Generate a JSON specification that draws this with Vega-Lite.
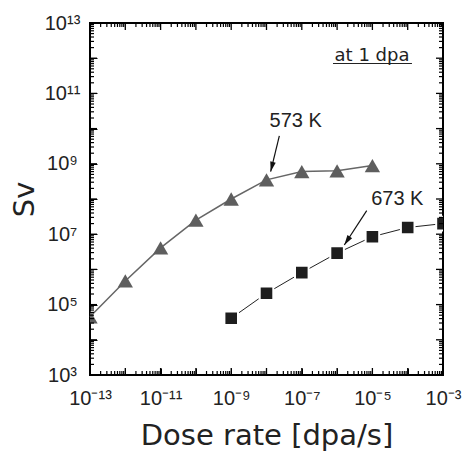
{
  "$schema": "https://vega.github.io/schema/vega-lite/v6.json",
  "width": 353,
  "height": 352,
  "autosize": {"type": "none"},
  "padding": {"left": 90, "top": 23, "right": 27, "bottom": 78},
  "background": "white",
  "config": {
    "view": {"stroke": "black", "strokeWidth": 2},
    "axis": {"grid": false, "domain": false}
  },
  "datasets": {
    "pts": [
      {"x": 1e-13, "y": 4.5e4, "temp": "573 K"},
      {"x": 1e-12, "y": 4.7e5, "temp": "573 K"},
      {"x": 1e-11, "y": 4.1e6, "temp": "573 K"},
      {"x": 1e-10, "y": 2.5e7, "temp": "573 K"},
      {"x": 1e-9, "y": 1.0e8, "temp": "573 K"},
      {"x": 1e-8, "y": 3.5e8, "temp": "573 K"},
      {"x": 1e-7, "y": 6.0e8, "temp": "573 K"},
      {"x": 1e-6, "y": 6.3e8, "temp": "573 K"},
      {"x": 1e-5, "y": 8.9e8, "temp": "573 K"},
      {"x": 1e-9, "y": 4.1e4, "temp": "673 K"},
      {"x": 1e-8, "y": 2.1e5, "temp": "673 K"},
      {"x": 1e-7, "y": 8.1e5, "temp": "673 K"},
      {"x": 1e-6, "y": 2.9e6, "temp": "673 K"},
      {"x": 1e-5, "y": 8.5e6, "temp": "673 K"},
      {"x": 1e-4, "y": 1.55e7, "temp": "673 K"},
      {"x": 1e-3, "y": 2.0e7, "temp": "673 K"}
    ],
    "xmaj": [
      {"v": 1e-12, "b": 1e3, "t": 1e13}, {"v": 1e-11, "b": 1e3, "t": 1e13}, {"v": 1e-10, "b": 1e3, "t": 1e13},
      {"v": 1e-9, "b": 1e3, "t": 1e13}, {"v": 1e-8, "b": 1e3, "t": 1e13}, {"v": 1e-7, "b": 1e3, "t": 1e13},
      {"v": 1e-6, "b": 1e3, "t": 1e13}, {"v": 1e-5, "b": 1e3, "t": 1e13}, {"v": 1e-4, "b": 1e3, "t": 1e13}
    ],
    "ymaj": [
      {"v": 1e4, "l": 1e-13, "r": 1e-3}, {"v": 1e5, "l": 1e-13, "r": 1e-3}, {"v": 1e6, "l": 1e-13, "r": 1e-3},
      {"v": 1e7, "l": 1e-13, "r": 1e-3}, {"v": 1e8, "l": 1e-13, "r": 1e-3}, {"v": 1e9, "l": 1e-13, "r": 1e-3},
      {"v": 1e10, "l": 1e-13, "r": 1e-3}, {"v": 1e11, "l": 1e-13, "r": 1e-3}, {"v": 1e12, "l": 1e-13, "r": 1e-3}
    ],
    "xmin": [
      {"v": 2e-13, "b": 1e3, "t": 1e13}, {"v": 3e-13, "b": 1e3, "t": 1e13}, {"v": 4e-13, "b": 1e3, "t": 1e13}, {"v": 5e-13, "b": 1e3, "t": 1e13}, {"v": 6e-13, "b": 1e3, "t": 1e13}, {"v": 7e-13, "b": 1e3, "t": 1e13}, {"v": 8e-13, "b": 1e3, "t": 1e13}, {"v": 9e-13, "b": 1e3, "t": 1e13},
      {"v": 2e-12, "b": 1e3, "t": 1e13}, {"v": 3e-12, "b": 1e3, "t": 1e13}, {"v": 4e-12, "b": 1e3, "t": 1e13}, {"v": 5e-12, "b": 1e3, "t": 1e13}, {"v": 6e-12, "b": 1e3, "t": 1e13}, {"v": 7e-12, "b": 1e3, "t": 1e13}, {"v": 8e-12, "b": 1e3, "t": 1e13}, {"v": 9e-12, "b": 1e3, "t": 1e13},
      {"v": 2e-11, "b": 1e3, "t": 1e13}, {"v": 3e-11, "b": 1e3, "t": 1e13}, {"v": 4e-11, "b": 1e3, "t": 1e13}, {"v": 5e-11, "b": 1e3, "t": 1e13}, {"v": 6e-11, "b": 1e3, "t": 1e13}, {"v": 7e-11, "b": 1e3, "t": 1e13}, {"v": 8e-11, "b": 1e3, "t": 1e13}, {"v": 9e-11, "b": 1e3, "t": 1e13},
      {"v": 2e-10, "b": 1e3, "t": 1e13}, {"v": 3e-10, "b": 1e3, "t": 1e13}, {"v": 4e-10, "b": 1e3, "t": 1e13}, {"v": 5e-10, "b": 1e3, "t": 1e13}, {"v": 6e-10, "b": 1e3, "t": 1e13}, {"v": 7e-10, "b": 1e3, "t": 1e13}, {"v": 8e-10, "b": 1e3, "t": 1e13}, {"v": 9e-10, "b": 1e3, "t": 1e13},
      {"v": 2e-9, "b": 1e3, "t": 1e13}, {"v": 3e-9, "b": 1e3, "t": 1e13}, {"v": 4e-9, "b": 1e3, "t": 1e13}, {"v": 5e-9, "b": 1e3, "t": 1e13}, {"v": 6e-9, "b": 1e3, "t": 1e13}, {"v": 7e-9, "b": 1e3, "t": 1e13}, {"v": 8e-9, "b": 1e3, "t": 1e13}, {"v": 9e-9, "b": 1e3, "t": 1e13},
      {"v": 2e-8, "b": 1e3, "t": 1e13}, {"v": 3e-8, "b": 1e3, "t": 1e13}, {"v": 4e-8, "b": 1e3, "t": 1e13}, {"v": 5e-8, "b": 1e3, "t": 1e13}, {"v": 6e-8, "b": 1e3, "t": 1e13}, {"v": 7e-8, "b": 1e3, "t": 1e13}, {"v": 8e-8, "b": 1e3, "t": 1e13}, {"v": 9e-8, "b": 1e3, "t": 1e13},
      {"v": 2e-7, "b": 1e3, "t": 1e13}, {"v": 3e-7, "b": 1e3, "t": 1e13}, {"v": 4e-7, "b": 1e3, "t": 1e13}, {"v": 5e-7, "b": 1e3, "t": 1e13}, {"v": 6e-7, "b": 1e3, "t": 1e13}, {"v": 7e-7, "b": 1e3, "t": 1e13}, {"v": 8e-7, "b": 1e3, "t": 1e13}, {"v": 9e-7, "b": 1e3, "t": 1e13},
      {"v": 2e-6, "b": 1e3, "t": 1e13}, {"v": 3e-6, "b": 1e3, "t": 1e13}, {"v": 4e-6, "b": 1e3, "t": 1e13}, {"v": 5e-6, "b": 1e3, "t": 1e13}, {"v": 6e-6, "b": 1e3, "t": 1e13}, {"v": 7e-6, "b": 1e3, "t": 1e13}, {"v": 8e-6, "b": 1e3, "t": 1e13}, {"v": 9e-6, "b": 1e3, "t": 1e13},
      {"v": 2e-5, "b": 1e3, "t": 1e13}, {"v": 3e-5, "b": 1e3, "t": 1e13}, {"v": 4e-5, "b": 1e3, "t": 1e13}, {"v": 5e-5, "b": 1e3, "t": 1e13}, {"v": 6e-5, "b": 1e3, "t": 1e13}, {"v": 7e-5, "b": 1e3, "t": 1e13}, {"v": 8e-5, "b": 1e3, "t": 1e13}, {"v": 9e-5, "b": 1e3, "t": 1e13},
      {"v": 2e-4, "b": 1e3, "t": 1e13}, {"v": 3e-4, "b": 1e3, "t": 1e13}, {"v": 4e-4, "b": 1e3, "t": 1e13}, {"v": 5e-4, "b": 1e3, "t": 1e13}, {"v": 6e-4, "b": 1e3, "t": 1e13}, {"v": 7e-4, "b": 1e3, "t": 1e13}, {"v": 8e-4, "b": 1e3, "t": 1e13}, {"v": 9e-4, "b": 1e3, "t": 1e13}
    ],
    "ymin": [
      {"v": 2e3, "l": 1e-13, "r": 1e-3}, {"v": 3e3, "l": 1e-13, "r": 1e-3}, {"v": 4e3, "l": 1e-13, "r": 1e-3}, {"v": 5e3, "l": 1e-13, "r": 1e-3}, {"v": 6e3, "l": 1e-13, "r": 1e-3}, {"v": 7e3, "l": 1e-13, "r": 1e-3}, {"v": 8e3, "l": 1e-13, "r": 1e-3}, {"v": 9e3, "l": 1e-13, "r": 1e-3},
      {"v": 2e4, "l": 1e-13, "r": 1e-3}, {"v": 3e4, "l": 1e-13, "r": 1e-3}, {"v": 4e4, "l": 1e-13, "r": 1e-3}, {"v": 5e4, "l": 1e-13, "r": 1e-3}, {"v": 6e4, "l": 1e-13, "r": 1e-3}, {"v": 7e4, "l": 1e-13, "r": 1e-3}, {"v": 8e4, "l": 1e-13, "r": 1e-3}, {"v": 9e4, "l": 1e-13, "r": 1e-3},
      {"v": 2e5, "l": 1e-13, "r": 1e-3}, {"v": 3e5, "l": 1e-13, "r": 1e-3}, {"v": 4e5, "l": 1e-13, "r": 1e-3}, {"v": 5e5, "l": 1e-13, "r": 1e-3}, {"v": 6e5, "l": 1e-13, "r": 1e-3}, {"v": 7e5, "l": 1e-13, "r": 1e-3}, {"v": 8e5, "l": 1e-13, "r": 1e-3}, {"v": 9e5, "l": 1e-13, "r": 1e-3},
      {"v": 2e6, "l": 1e-13, "r": 1e-3}, {"v": 3e6, "l": 1e-13, "r": 1e-3}, {"v": 4e6, "l": 1e-13, "r": 1e-3}, {"v": 5e6, "l": 1e-13, "r": 1e-3}, {"v": 6e6, "l": 1e-13, "r": 1e-3}, {"v": 7e6, "l": 1e-13, "r": 1e-3}, {"v": 8e6, "l": 1e-13, "r": 1e-3}, {"v": 9e6, "l": 1e-13, "r": 1e-3},
      {"v": 2e7, "l": 1e-13, "r": 1e-3}, {"v": 3e7, "l": 1e-13, "r": 1e-3}, {"v": 4e7, "l": 1e-13, "r": 1e-3}, {"v": 5e7, "l": 1e-13, "r": 1e-3}, {"v": 6e7, "l": 1e-13, "r": 1e-3}, {"v": 7e7, "l": 1e-13, "r": 1e-3}, {"v": 8e7, "l": 1e-13, "r": 1e-3}, {"v": 9e7, "l": 1e-13, "r": 1e-3},
      {"v": 2e8, "l": 1e-13, "r": 1e-3}, {"v": 3e8, "l": 1e-13, "r": 1e-3}, {"v": 4e8, "l": 1e-13, "r": 1e-3}, {"v": 5e8, "l": 1e-13, "r": 1e-3}, {"v": 6e8, "l": 1e-13, "r": 1e-3}, {"v": 7e8, "l": 1e-13, "r": 1e-3}, {"v": 8e8, "l": 1e-13, "r": 1e-3}, {"v": 9e8, "l": 1e-13, "r": 1e-3},
      {"v": 2e9, "l": 1e-13, "r": 1e-3}, {"v": 3e9, "l": 1e-13, "r": 1e-3}, {"v": 4e9, "l": 1e-13, "r": 1e-3}, {"v": 5e9, "l": 1e-13, "r": 1e-3}, {"v": 6e9, "l": 1e-13, "r": 1e-3}, {"v": 7e9, "l": 1e-13, "r": 1e-3}, {"v": 8e9, "l": 1e-13, "r": 1e-3}, {"v": 9e9, "l": 1e-13, "r": 1e-3},
      {"v": 2e10, "l": 1e-13, "r": 1e-3}, {"v": 3e10, "l": 1e-13, "r": 1e-3}, {"v": 4e10, "l": 1e-13, "r": 1e-3}, {"v": 5e10, "l": 1e-13, "r": 1e-3}, {"v": 6e10, "l": 1e-13, "r": 1e-3}, {"v": 7e10, "l": 1e-13, "r": 1e-3}, {"v": 8e10, "l": 1e-13, "r": 1e-3}, {"v": 9e10, "l": 1e-13, "r": 1e-3},
      {"v": 2e11, "l": 1e-13, "r": 1e-3}, {"v": 3e11, "l": 1e-13, "r": 1e-3}, {"v": 4e11, "l": 1e-13, "r": 1e-3}, {"v": 5e11, "l": 1e-13, "r": 1e-3}, {"v": 6e11, "l": 1e-13, "r": 1e-3}, {"v": 7e11, "l": 1e-13, "r": 1e-3}, {"v": 8e11, "l": 1e-13, "r": 1e-3}, {"v": 9e11, "l": 1e-13, "r": 1e-3},
      {"v": 2e12, "l": 1e-13, "r": 1e-3}, {"v": 3e12, "l": 1e-13, "r": 1e-3}, {"v": 4e12, "l": 1e-13, "r": 1e-3}, {"v": 5e12, "l": 1e-13, "r": 1e-3}, {"v": 6e12, "l": 1e-13, "r": 1e-3}, {"v": 7e12, "l": 1e-13, "r": 1e-3}, {"v": 8e12, "l": 1e-13, "r": 1e-3}, {"v": 9e12, "l": 1e-13, "r": 1e-3}
    ],
    "arrows": [
      {"name": "573 K", "x": 2.31e-8, "y": 6.2e9, "x2": 1.31e-8, "y2": 5.97e8},
      {"name": "673 K", "x": 6.9e-6, "y": 4.66e7, "x2": 1.6e-6, "y2": 4.93e6}
    ],
    "labels": [
      {"x": 6.7e-8, "y": 1.64e10, "t": "573 K"},
      {"x": 5.07e-5, "y": 9.8e7, "t": "673 K"}
    ],
    "note": [
      {"x": 9.75e-6, "y": 8.3e11, "t": "at 1 dpa", "xu": 7.65e-7, "xu2": 1.32e-4, "yu": 7.06e11}
    ]
  },
  "encoding": {
    "x": {"field": "x", "type": "quantitative", "scale": {"type": "log", "domain": [1e-13, 1e-3], "nice": false}, "axis": null},
    "y": {"field": "y", "type": "quantitative", "scale": {"type": "log", "domain": [1e3, 1e13], "nice": false}, "axis": null}
  },
  "layer": [
    {
      "data": {"name": "pts"},
      "transform": [{"filter": "datum.temp == '573 K'"}],
      "mark": {"type": "line", "color": "#666666", "strokeWidth": 1.5},
      "encoding": {
        "x": {"field": "x", "type": "quantitative", "scale": {"type": "log", "domain": [1e-13, 1e-3], "nice": false},
          "axis": {
            "orient": "bottom", "offset": -7, "tickSize": 7, "ticks": true, "zindex": 1, "tickColor": "black",
            "values": [1e-13, 1e-12, 1e-11, 1e-10, 1e-9, 1e-8, 1e-7, 1e-6, 1e-5, 1e-4, 1e-3],
            "title": "Dose rate [dpa/s]",
            "titleFont": "DejaVu Sans", "titleFontSize": 29, "titleFontWeight": "normal", "titleColor": "#222222", "titlePadding": 13,
            "labelFont": "Liberation Sans", "labelFontSize": 20, "labelColor": "#222222", "labelPadding": 13,
            "labelFlush": false, "labelOverlap": false,
            "labelExpr": "abs(round(log(datum.value)/LN10)) % 2 == 1 ? '10' + (round(log(datum.value)/LN10) < 0 ? '⁻' : '') + (abs(round(log(datum.value)/LN10)) >= 10 ? substring('⁰¹²³⁴⁵⁶⁷⁸⁹', floor(abs(round(log(datum.value)/LN10))/10), floor(abs(round(log(datum.value)/LN10))/10) + 1) : '') + substring('⁰¹²³⁴⁵⁶⁷⁸⁹', abs(round(log(datum.value)/LN10)) % 10, abs(round(log(datum.value)/LN10)) % 10 + 1) : ''"
          }
        },
        "y": {"field": "y", "type": "quantitative", "scale": {"type": "log", "domain": [1e3, 1e13], "nice": false},
          "axis": {
            "orient": "left", "offset": -7, "tickSize": 7, "ticks": true, "zindex": 1, "tickColor": "black",
            "values": [1e3, 1e4, 1e5, 1e6, 1e7, 1e8, 1e9, 1e10, 1e11, 1e12, 1e13],
            "title": "Sv",
            "titleFont": "DejaVu Sans", "titleFontSize": 29, "titleFontWeight": "normal", "titleColor": "#222222", "titlePadding": 5,
            "labelFont": "Liberation Sans", "labelFontSize": 20, "labelColor": "#222222", "labelPadding": 28, "labelAlign": "center",
            "labelFlush": false, "labelOverlap": false,
            "labelExpr": "abs(round(log(datum.value)/LN10)) % 2 == 1 ? '10' + (round(log(datum.value)/LN10) < 0 ? '⁻' : '') + (abs(round(log(datum.value)/LN10)) >= 10 ? substring('⁰¹²³⁴⁵⁶⁷⁸⁹', floor(abs(round(log(datum.value)/LN10))/10), floor(abs(round(log(datum.value)/LN10))/10) + 1) : '') + substring('⁰¹²³⁴⁵⁶⁷⁸⁹', abs(round(log(datum.value)/LN10)) % 10, abs(round(log(datum.value)/LN10)) % 10 + 1) : ''"
          }
        }
      }
    },
    {
      "data": {"name": "pts"},
      "transform": [{"filter": "datum.temp == '673 K'"}],
      "mark": {"type": "line", "color": "#222222", "strokeWidth": 1}
    },
    {
      "data": {"name": "pts"},
      "transform": [{"filter": "datum.temp == '573 K'"}],
      "mark": {"type": "point", "shape": "triangle-up", "filled": true, "size": 235, "color": "#5e5e5e", "opacity": 1, "clip": true}
    },
    {
      "data": {"name": "pts"},
      "transform": [{"filter": "datum.temp == '673 K'"}],
      "mark": {"type": "point", "shape": "square", "filled": true, "size": 185, "color": "#1e1e1e", "opacity": 1, "stroke": "white", "strokeWidth": 2, "clip": true}
    },
    {
      "data": {"name": "arrows"},
      "mark": {"type": "rule", "color": "#111111", "strokeWidth": 1.2},
      "encoding": {
        "x2": {"field": "x2"},
        "y2": {"field": "y2"}
      }
    },
    {
      "data": {"name": "arrows"},
      "transform": [{"filter": "datum.name == '573 K'"}],
      "mark": {"type": "point", "shape": "M0,0L-0.28,-1L0.28,-1Z", "filled": true, "size": 400, "color": "#111111", "opacity": 1, "angle": 13.7},
      "encoding": {
        "x": {"field": "x2", "type": "quantitative", "scale": {"type": "log", "domain": [1e-13, 1e-3], "nice": false}, "axis": null},
        "y": {"field": "y2", "type": "quantitative", "scale": {"type": "log", "domain": [1e3, 1e13], "nice": false}, "axis": null}
      }
    },
    {
      "data": {"name": "arrows"},
      "transform": [{"filter": "datum.name == '673 K'"}],
      "mark": {"type": "point", "shape": "M0,0L-0.28,-1L0.28,-1Z", "filled": true, "size": 400, "color": "#111111", "opacity": 1, "angle": 33.1},
      "encoding": {
        "x": {"field": "x2", "type": "quantitative", "scale": {"type": "log", "domain": [1e-13, 1e-3], "nice": false}, "axis": null},
        "y": {"field": "y2", "type": "quantitative", "scale": {"type": "log", "domain": [1e3, 1e13], "nice": false}, "axis": null}
      }
    },
    {
      "data": {"name": "labels"},
      "mark": {"type": "text", "font": "Liberation Sans", "fontSize": 20, "color": "#222222", "align": "center", "baseline": "middle"},
      "encoding": {"text": {"field": "t"}}
    },
    {
      "data": {"name": "note"},
      "mark": {"type": "text", "font": "DejaVu Sans", "fontSize": 18, "color": "#222222", "align": "center", "baseline": "alphabetic"},
      "encoding": {"text": {"field": "t"}}
    },
    {
      "data": {"name": "note"},
      "mark": {"type": "rule", "color": "#222222", "strokeWidth": 1.2},
      "encoding": {
        "x": {"field": "xu", "type": "quantitative", "scale": {"type": "log", "domain": [1e-13, 1e-3], "nice": false}, "axis": null},
        "x2": {"field": "xu2"},
        "y": {"field": "yu", "type": "quantitative", "scale": {"type": "log", "domain": [1e3, 1e13], "nice": false}, "axis": null}
      }
    },
    {
      "data": {"name": "xmaj"},
      "mark": {"type": "point", "shape": "M0,0L0,-1", "filled": false, "size": 196, "color": "black", "strokeWidth": 1.3, "opacity": 1},
      "encoding": {
        "x": {"field": "v", "type": "quantitative", "scale": {"type": "log", "domain": [1e-13, 1e-3], "nice": false}, "axis": null},
        "y": {"field": "b", "type": "quantitative", "scale": {"type": "log", "domain": [1e3, 1e13], "nice": false}, "axis": null}
      }
    },
    {
      "data": {"name": "xmaj"},
      "mark": {"type": "point", "shape": "M0,0L0,1", "filled": false, "size": 196, "color": "black", "strokeWidth": 1.3, "opacity": 1},
      "encoding": {
        "x": {"field": "v", "type": "quantitative", "scale": {"type": "log", "domain": [1e-13, 1e-3], "nice": false}, "axis": null},
        "y": {"field": "t", "type": "quantitative", "scale": {"type": "log", "domain": [1e3, 1e13], "nice": false}, "axis": null}
      }
    },
    {
      "data": {"name": "xmin"},
      "mark": {"type": "point", "shape": "M0,0L0,-1", "filled": false, "size": 64, "color": "black", "strokeWidth": 1.2, "opacity": 1},
      "encoding": {
        "x": {"field": "v", "type": "quantitative", "scale": {"type": "log", "domain": [1e-13, 1e-3], "nice": false}, "axis": null},
        "y": {"field": "b", "type": "quantitative", "scale": {"type": "log", "domain": [1e3, 1e13], "nice": false}, "axis": null}
      }
    },
    {
      "data": {"name": "xmin"},
      "mark": {"type": "point", "shape": "M0,0L0,1", "filled": false, "size": 64, "color": "black", "strokeWidth": 1.2, "opacity": 1},
      "encoding": {
        "x": {"field": "v", "type": "quantitative", "scale": {"type": "log", "domain": [1e-13, 1e-3], "nice": false}, "axis": null},
        "y": {"field": "t", "type": "quantitative", "scale": {"type": "log", "domain": [1e3, 1e13], "nice": false}, "axis": null}
      }
    },
    {
      "data": {"name": "ymaj"},
      "mark": {"type": "point", "shape": "M0,0L1,0", "filled": false, "size": 196, "color": "black", "strokeWidth": 1.3, "opacity": 1},
      "encoding": {
        "y": {"field": "v", "type": "quantitative", "scale": {"type": "log", "domain": [1e3, 1e13], "nice": false}, "axis": null},
        "x": {"field": "l", "type": "quantitative", "scale": {"type": "log", "domain": [1e-13, 1e-3], "nice": false}, "axis": null}
      }
    },
    {
      "data": {"name": "ymaj"},
      "mark": {"type": "point", "shape": "M0,0L-1,0", "filled": false, "size": 196, "color": "black", "strokeWidth": 1.3, "opacity": 1},
      "encoding": {
        "y": {"field": "v", "type": "quantitative", "scale": {"type": "log", "domain": [1e3, 1e13], "nice": false}, "axis": null},
        "x": {"field": "r", "type": "quantitative", "scale": {"type": "log", "domain": [1e-13, 1e-3], "nice": false}, "axis": null}
      }
    },
    {
      "data": {"name": "ymin"},
      "mark": {"type": "point", "shape": "M0,0L1,0", "filled": false, "size": 64, "color": "black", "strokeWidth": 1.2, "opacity": 1},
      "encoding": {
        "y": {"field": "v", "type": "quantitative", "scale": {"type": "log", "domain": [1e3, 1e13], "nice": false}, "axis": null},
        "x": {"field": "l", "type": "quantitative", "scale": {"type": "log", "domain": [1e-13, 1e-3], "nice": false}, "axis": null}
      }
    },
    {
      "data": {"name": "ymin"},
      "mark": {"type": "point", "shape": "M0,0L-1,0", "filled": false, "size": 64, "color": "black", "strokeWidth": 1.2, "opacity": 1},
      "encoding": {
        "y": {"field": "v", "type": "quantitative", "scale": {"type": "log", "domain": [1e3, 1e13], "nice": false}, "axis": null},
        "x": {"field": "r", "type": "quantitative", "scale": {"type": "log", "domain": [1e-13, 1e-3], "nice": false}, "axis": null}
      }
    }
  ],
  "resolve": {"axis": {"x": "independent", "y": "independent"}}
}
